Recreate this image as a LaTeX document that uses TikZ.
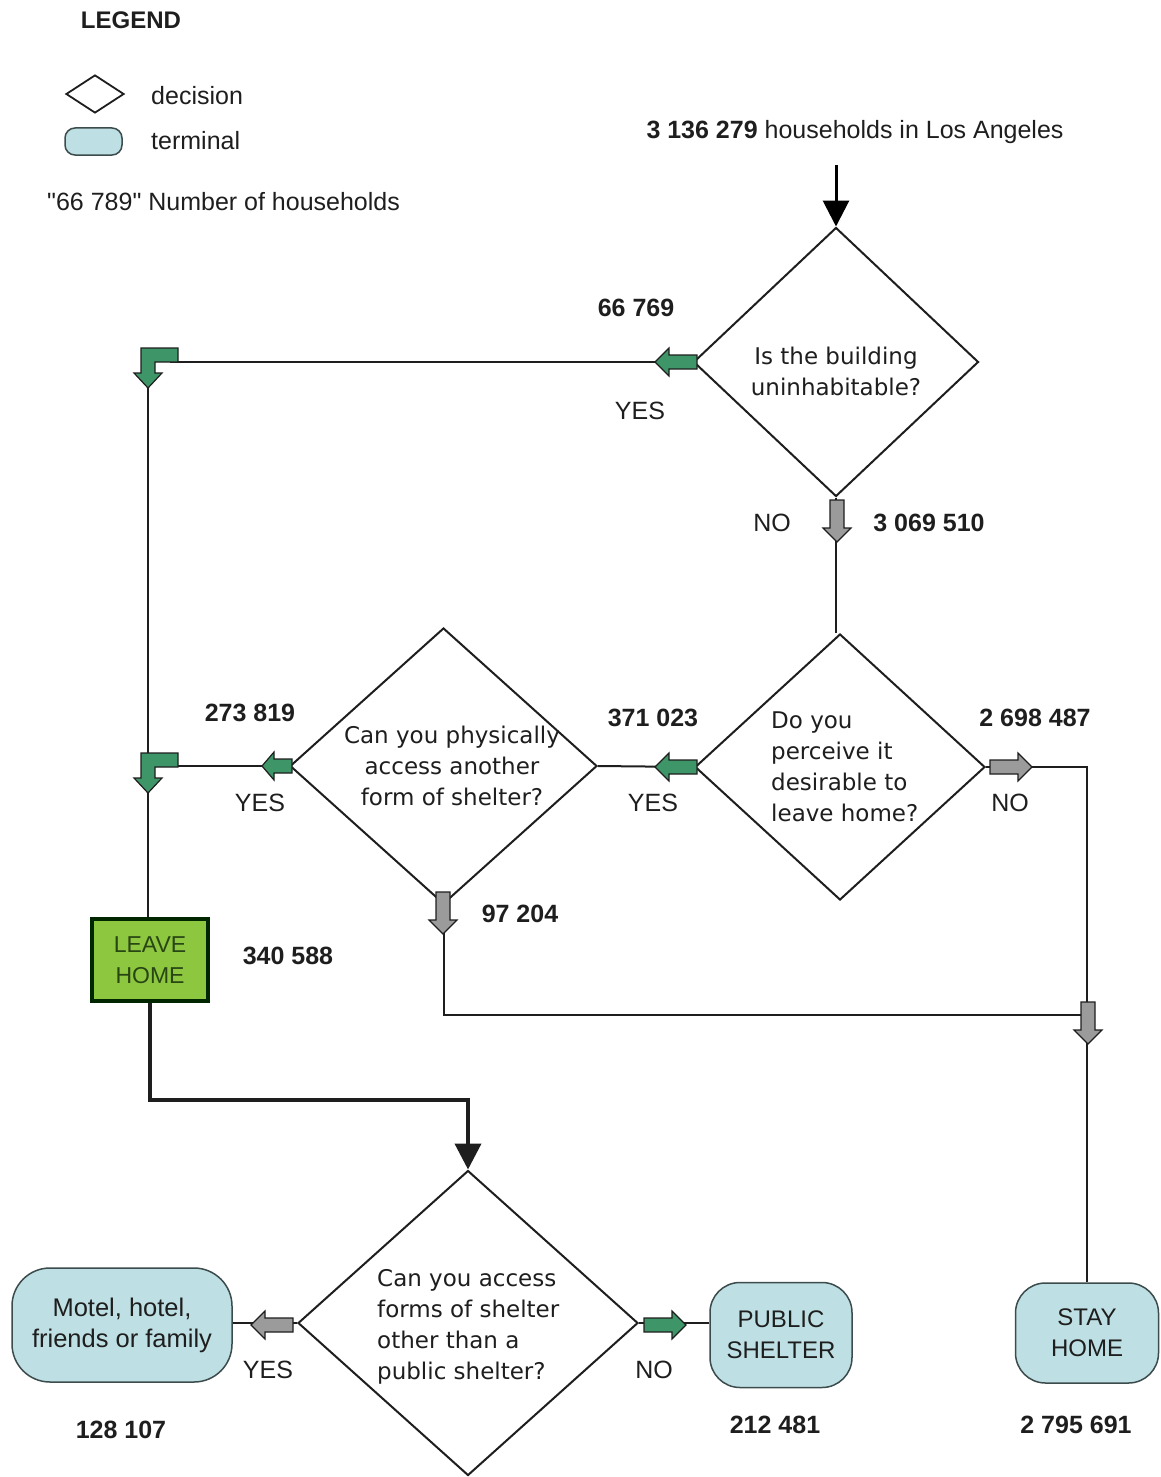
\documentclass[tikz,border=0pt]{standalone}
\usepackage{fontspec}
\setmainfont{Liberation Sans}
\newfontfamily\dvs{DejaVu Sans}
\newfontfamily\rawsans[Ligatures=ResetAll]{Liberation Sans}
\usetikzlibrary{shapes.geometric,arrows.meta}
\definecolor{termfill}{RGB}{190,224,228}
\definecolor{termdraw}{RGB}{60,75,75}
\definecolor{garrow}{RGB}{62,150,104}
\definecolor{grayarrow}{RGB}{155,155,155}
\definecolor{leavefill}{RGB}{141,198,63}
\definecolor{leavetext}{RGB}{40,70,20}
\definecolor{ink}{RGB}{30,30,30}
\tikzset{
  decision/.style={diamond, draw=ink, line width=2pt, inner sep=0pt, fill=white},
  terminal/.style={draw=termdraw, line width=1.5pt, fill=termfill, inner sep=0pt, align=center, text=ink, font=\fontsize{24}{31}\selectfont},
  leavebox/.style={draw=black!85!green, line width=4pt, fill=leavefill, minimum width=116pt, minimum height=82pt, inner sep=0pt, align=center, text=leavetext, font=\fontsize{23}{31}\selectfont},
  lab/.style={inner sep=0pt, text=ink, font=\fontsize{25}{29}\selectfont},
  num/.style={inner sep=0pt, text=ink, font=\bfseries\fontsize{25}{29}\selectfont},
  dtext/.style={inner sep=0pt, text=ink, font=\dvs\fontsize{23}{31}\selectfont},
  conn/.style={line width=2pt, draw=ink},
  thickconn/.style={line width=4pt, draw=ink},
  barrow/.pic={\draw[line width=1.2pt, draw=ink, fill=#1, line join=miter] (0,-7) -- (28,-7) -- (28,-14) -- (42,0) -- (28,14) -- (28,7) -- (0,7) -- cycle;},
  sbarrow/.pic={\draw[line width=1.2pt, draw=ink, fill=#1, line join=miter] (0,-7) -- (18,-7) -- (18,-14) -- (30,0) -- (18,14) -- (18,7) -- (0,7) -- cycle;},
  bendarrow/.pic={\draw[line width=1.2pt, draw=ink, fill=garrow, line join=miter] (30,0) -- (-7,0) -- (-7,25) -- (-14,25) -- (0,40) -- (14,25) -- (7,25) -- (7,14) -- (30,14) -- cycle;},
}
\begin{document}
\begin{tikzpicture}[x=1pt,y=-1pt]
\useasboundingbox (0,0) rectangle (1161,1477);
% legend
\node[num, font=\bfseries\fontsize{24}{28}\selectfont] (legend) at (131,20) {LEGEND};
\node[decision, line width=1.8pt, minimum width=58pt, minimum height=38pt] (lgd) at (95,94) {};
\node[lab, anchor=west] (lgdt) at (151,96) {decision};
\node[draw=termdraw, line width=1.5pt, fill=termfill, rounded corners=10pt, minimum width=57pt, minimum height=27pt, inner sep=0pt] (lgt) at (93.5,141.5) {};
\node[lab, anchor=west] (lgtt) at (151,141) {terminal};
\node[lab, anchor=west] (lgn) at (47,202) {{\rawsans"}66 789{\rawsans"} Number of households};
% source
\node[lab] (src) at (855,132) {\textbf{3 136 279} households in Los Angeles};
\coordinate (srcpt) at (836,165);
% decisions
\node[decision, minimum width=285pt, minimum height=269pt] (d1) at (836,362) {};
\node[decision, minimum width=290pt, minimum height=266pt] (d2) at (840,767) {};
\node[decision, minimum width=307pt, minimum height=276pt] (d3) at (443.5,766) {};
\node[decision, minimum width=340pt, minimum height=305pt] (d4) at (468,1323) {};
\node[dtext, align=center] (d1t) at (836,371) {Is the building\\uninhabitable?};
\node[dtext, align=left, anchor=west] (d2t) at (771,767) {Do you\\perceive it\\desirable to\\leave home?};
\node[dtext, align=center] (d3t) at (452,766) {Can you physically\\access another\\form of shelter?};
\node[dtext, align=left, anchor=west] (d4t) at (377,1327) {Can you access\\forms of shelter\\other than a\\public shelter?};
% terminals
\node[leavebox] (leave) at (150,960) {LEAVE\\HOME};
\node[terminal, font=\fontsize{25.5}{31}\selectfont, rounded corners=38pt, minimum width=220pt, minimum height=114pt] (motel) at (122,1325) {Motel, hotel,\\friends or family};
\node[terminal, rounded corners=30pt, minimum width=142pt, minimum height=105pt] (pub) at (781,1335) {PUBLIC\\SHELTER};
\node[terminal, rounded corners=30pt, minimum width=143pt, minimum height=100pt] (stay) at (1087,1333) {STAY\\HOME};
% coordinates
\coordinate (b1) at (148,348);
\coordinate (b1tip) at (148,388);
\coordinate (b2) at (148,753);
\coordinate (jn) at (1087,1015);
\coordinate (kk) at (150,1100);
% connectors
\draw[line width=3pt, draw=black, -{Triangle[length=26pt,width=26pt]}] (srcpt) -- (d1.north);
\draw[conn] (d1.west) -- (170,362);
\draw[conn] (b1tip) -- (b1tip |- leave.north);
\draw[conn] (d1.south) -- (d1.south |- d2.north);
\draw[conn] (d2.west) -- (d3.east);
\draw[conn] (d2.east) -| (stay.north);
\draw[conn] (d3.west) -- (170,766);
\draw[conn] (d3.south) |- (jn);
\draw[thickconn, -{Triangle[length=26pt,width=26pt]}] (leave.south) -- (leave.south |- kk) -| (d4.north);
\draw[conn] (d4.west) -- (motel.east |- d4.west);
\draw[conn] (d4.east) -- (pub.west |- d4.east);
% block arrows
\pic at (b1) {bendarrow};
\pic at (b2) {bendarrow};
\pic[rotate=180] at (697,362) {barrow=garrow};
\pic[rotate=-90] at (837,500) {barrow=grayarrow};
\pic[rotate=180] at (697,767) {barrow=garrow};
\pic at (990,767) {barrow=grayarrow};
\pic[rotate=180] at (292,766) {sbarrow=garrow};
\pic[rotate=-90] at (443,892) {barrow=grayarrow};
\pic[rotate=-90] at (1088,1002) {barrow=grayarrow};
\pic[rotate=180] at (293,1325) {barrow=grayarrow};
\pic at (644,1325) {barrow=garrow};
% labels
\node[num] (n1) at (636,308) {66 769};
\node[lab] (y1) at (640,411) {YES};
\node[lab] (no1) at (772,523) {NO};
\node[num] (n2) at (929,523) {3 069 510};
\node[num] (n3) at (250,713) {273 819};
\node[lab] (y3) at (260,803) {YES};
\node[num] (n4) at (653,718) {371 023};
\node[lab] (y2) at (653,803) {YES};
\node[num] (n5) at (1035,718) {2 698 487};
\node[lab] (no2) at (1010,803) {NO};
\node[num] (n6) at (520,914) {97 204};
\node[num] (n7) at (288,956) {340 588};
\node[lab] (y4) at (268,1370) {YES};
\node[lab] (no4) at (654,1370) {NO};
\node[num] (n8) at (121,1430) {128 107};
\node[num] (n9) at (775,1425) {212 481};
\node[num] (n10) at (1076,1425) {2 795 691};
\end{tikzpicture}
\end{document}
